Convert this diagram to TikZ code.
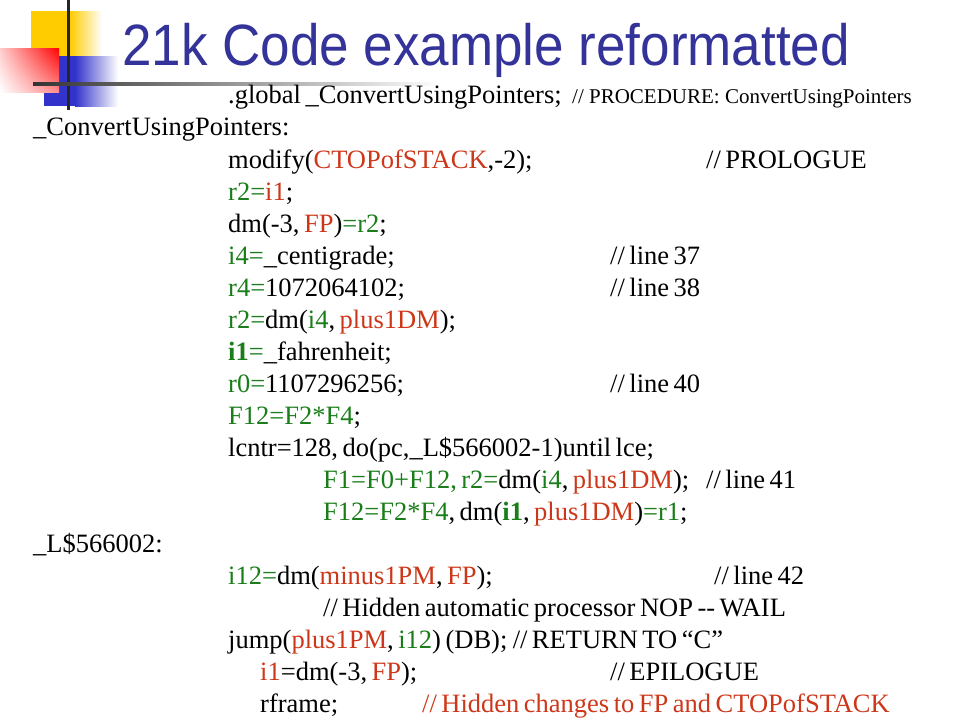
\documentclass[tikz,border=0pt]{standalone}
\usepackage{fontspec}
\setmainfont{Liberation Serif}
\newfontfamily\titlefont{Liberation Sans}
\usetikzlibrary{shadings}

\definecolor{titleblue}{RGB}{51,51,153}
\definecolor{codegreen}{RGB}{25,125,25}
\definecolor{codered}{RGB}{205,55,25}
\definecolor{logoyellow}{RGB}{255,204,0}
\definecolor{logoblue}{RGB}{51,51,204}
\definecolor{logored}{RGB}{255,0,0}

\newcommand{\cgreen}[1]{\textcolor{codegreen}{#1}}
\newcommand{\cred}[1]{\textcolor{codered}{#1}}
\newcommand{\codefont}{\fontsize{26.5}{31}\selectfont\spaceskip=0.17em plus 0.05em minus 0.02em\relax}

\begin{document}
\begin{tikzpicture}[x=1pt,y=-1pt,
  code/.style={anchor=base west,inner sep=0pt,font=\codefont},
  small/.style={code,font=\fontsize{21}{25}\selectfont}]

\useasboundingbox (0,0) rectangle (960,720);

% logo
\fill[logoyellow] (31,11) rectangle (71,57);
\shade[left color=logoyellow,right color=white] (70,11) rectangle (102,57);
\fill[logoblue] (44,56) rectangle (76,106);
\shade[left color=logoblue,right color=white] (75,56) rectangle (118,106);
\shade[upper left=logored!20,upper right=logored,lower left=white,lower right=logored!45] (0,48) rectangle (59,92);
\draw[line width=3pt,black!85] (68,0) -- (68,110);
\shade[left color=black!80,middle color=black!55,right color=white] (33,82.5) rectangle (440,85.5);

\node[anchor=base west,inner sep=0pt,text=titleblue,font=\titlefont\fontsize{53}{60}\selectfont] (title) at (122,65) {\scalebox{1}[1.1]{21k Code example reformatted}};

% code lines
\node[code] (glob) at (228,103) {.global \_ConvertUsingPointers;};
\node[small] (proc) at (572,103) {// PROCEDURE: ConvertUsingPointers};
\node[code] (lab1) at (33,135) {\_ConvertUsingPointers:};
\node[code] (l2) at (228,168) {modify(\cred{CTOPofSTACK},-2);};
\node[code] (c2) at (706,168) {// PROLOGUE};
\node[code] (l3) at (228,200) {\cgreen{r2=}\cred{i1};};
\node[code] (l4) at (228,232) {dm(-3, \cred{FP})\cgreen{=r2};};
\node[code] (l5) at (228,264) {\cgreen{i4=}\_centigrade;};
\node[code] (c5) at (610,264) {// line 37};
\node[code] (l6) at (228,296) {\cgreen{r4=}1072064102;};
\node[code] (c6) at (610,296) {// line 38};
\node[code] (l7) at (228,328) {\cgreen{r2=}dm(\cgreen{i4}, \cred{plus1DM});};
\node[code] (l8) at (228,360) {\cgreen{\textbf{i1}=}\_fahrenheit;};
\node[code] (l9) at (228,392) {\cgreen{r0=}1107296256;};
\node[code] (c9) at (610,392) {// line 40};
\node[code] (l10) at (228,424) {\cgreen{F12=F2*F4};};
\node[code] (l11) at (228,456) {lcntr=128, do(pc,\_L\$566002-1)until lce;};
\node[code] (l12) at (323,488) {\cgreen{F1=F0+F12, r2=}dm(\cgreen{i4}, \cred{plus1DM});};
\node[code] (c12) at (706,488) {// line 41};
\node[code] (l13) at (323,520) {\cgreen{F12=F2*F4}, dm(\cgreen{\textbf{i1}}, \cred{plus1DM})\cgreen{=r1};};
\node[code] (lab2) at (33,552) {\_L\$566002:};
\node[code] (l14) at (228,584) {\cgreen{i12=}dm(\cred{minus1PM}, \cred{FP});};
\node[code] (c14) at (714,584) {// line 42};
\node[code] (c15) at (323,616) {// Hidden automatic processor NOP -{}- WAIL};
\node[code] (l16) at (228,648) {jump(\cred{plus1PM}, \cgreen{i12}) (DB);};
\node[code] (c16) at ([xshift=5pt]l16.base east) {// RETURN TO “C”};
\node[code] (l17) at (260,680) {\cred{i1}=dm(-3, \cred{FP});};
\node[code] (c17) at (610,680) {// EPILOGUE};
\node[code] (l18) at (260,712) {rframe;};
\node[code,text=codered] (c18) at (422,712) {// Hidden changes to FP and CTOPofSTACK};

\end{tikzpicture}
\end{document}
